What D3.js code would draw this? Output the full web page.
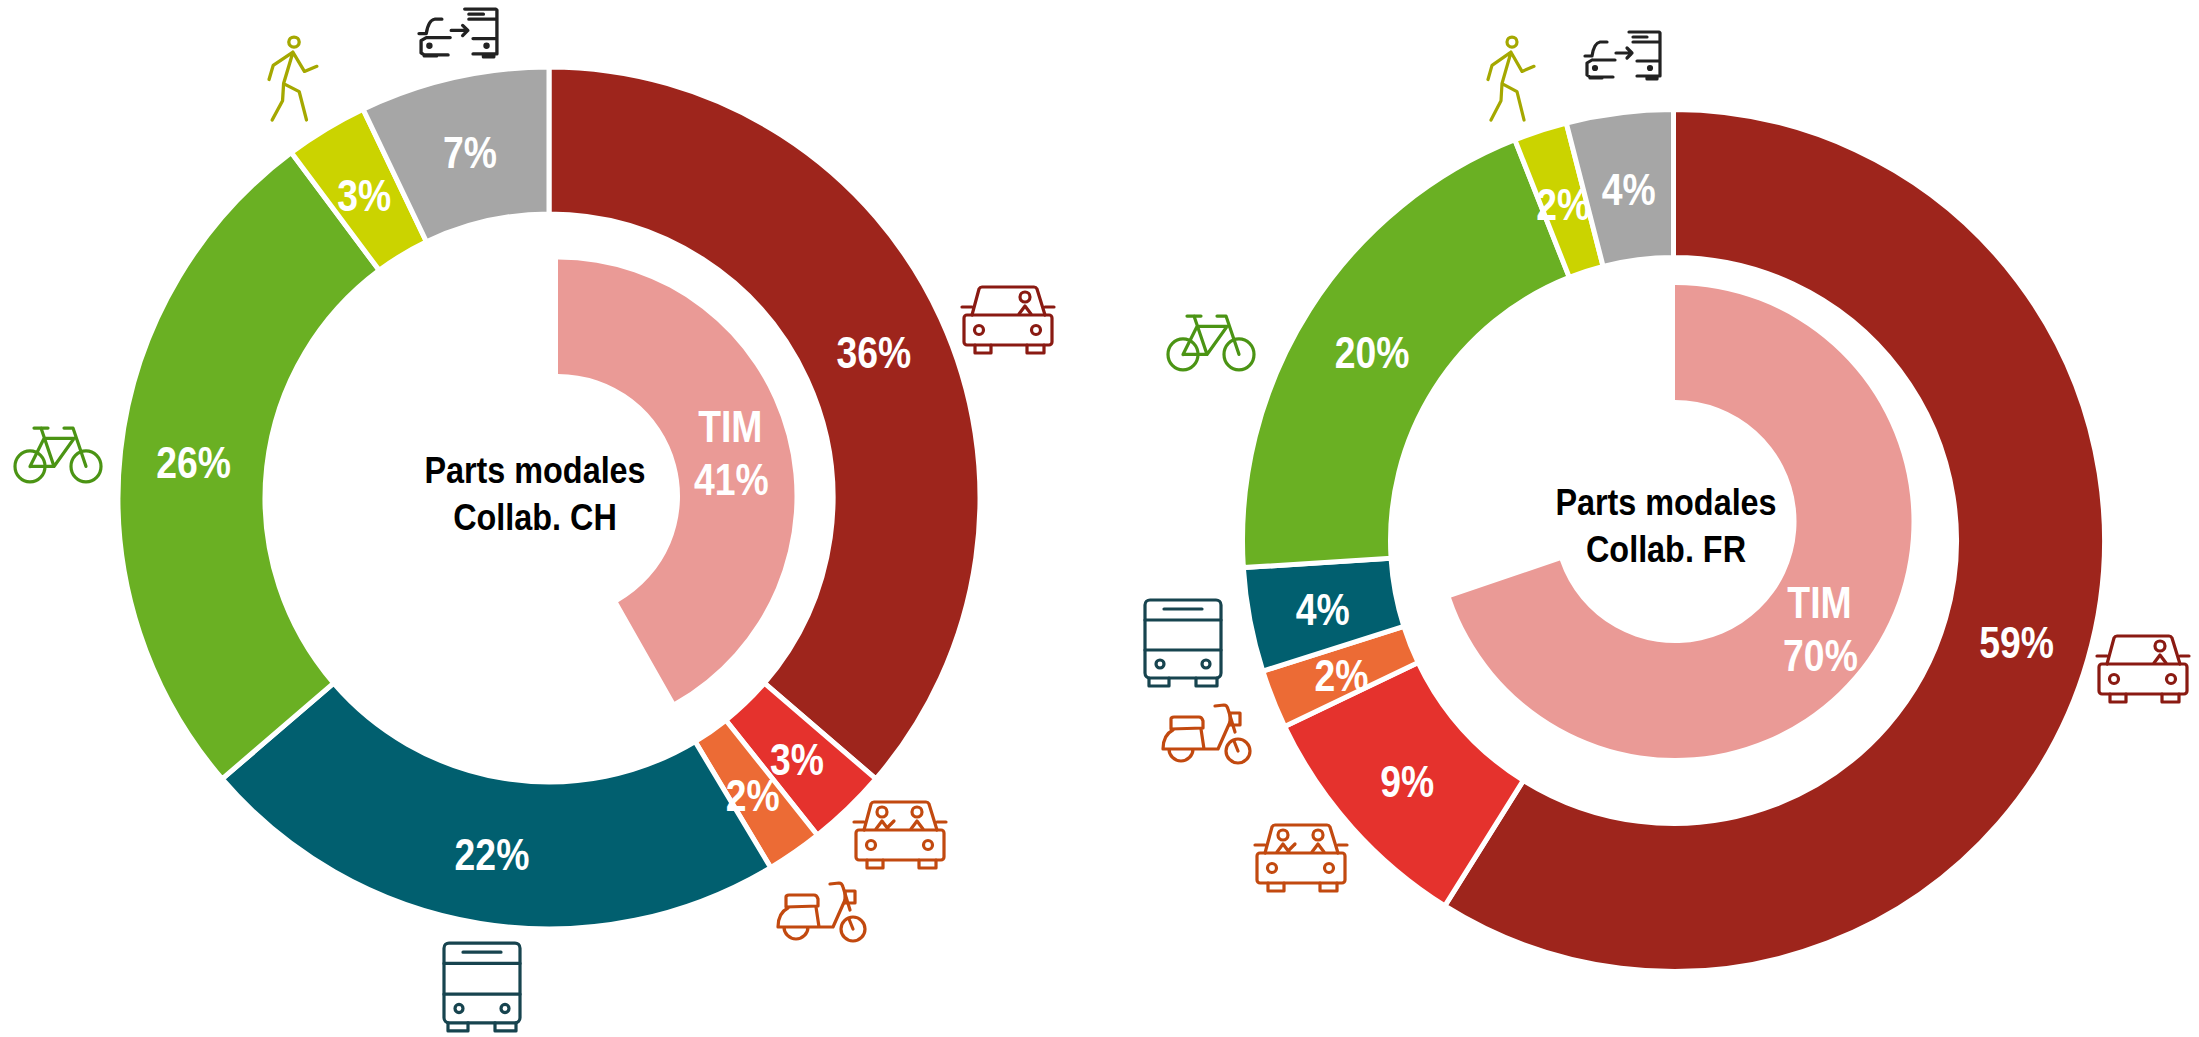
<!DOCTYPE html>
<html>
<head>
<meta charset="utf-8">
<script src="https://cdn.jsdelivr.net/npm/d3@7"></script>
<style>
  html, body { margin: 0; padding: 0; background: #fff; overflow: hidden; }
  text { font-family: "Liberation Sans", Arial, sans-serif; }
</style>
</head>
<body>
<div id="chart"></div>
<script>
// Data
var modes = ["Voiture", "Covoiturage", "Deux-roues", "TP", "Vélo", "Marche", "Multimodal"];
var colors = ["#9e251c", "#e5322d", "#ec6b35", "#015f6f", "#6ab023", "#cbd300", "#a6a6a6"];
var iconColors = ["#8a1a12", "#c2490f", "#c2490f", "#17444f", "#4b9414", "#a5a800", "#222222"];

var valuesCH = [36.3, 3.0, 2.1, 22.3, 26.1, 3.1, 7.1];
var labelsCH = ["36%", "3%", "2%", "22%", "26%", "3%", "7%"];
var valuesFR = [58.9, 9.0, 2.2, 3.9, 20.0, 2.0, 4.0];
var labelsFR = ["59%", "9%", "2%", "4%", "20%", "2%", "4%"];

var timCH = 41.8;
var timFR = 69.8;
var timLabelCH = "41%";
var timLabelFR = "70%";
var titleCH = ["Parts modales", "Collab. CH"];
var titleFR = ["Parts modales", "Collab. FR"];

var width = 2199, height = 1037;
// no narrow font installed, so squeeze the sans horizontally
var labelSqueeze = 0.83, titleSqueeze = 0.875;

// icons are drawn in their own little box, then scaled into place
var icons = {
  car: { w: 92, h: 69, draw: function(g) { carBase(g); person(g, 63); } },
  carpool: { w: 92, h: 69, draw: function(g) { carBase(g); person(g, 63); person(g, 28);
    g.append("path").attr("d", "M34,27 L40,21"); } },
  scooter: { w: 88, h: 59, draw: function(g) {
    g.append("path").attr("d", "M8,25 L8,15 Q8,13 11,13 L36,13 Q39,13 40,17 L40,24 Z");
    g.append("path").attr("d", "M0,45 Q0,31 10,26 M38,25 L41,45 M0,45 L55,45 L67,18 M6,45 A12,12 0 0 0 30,45");
    g.append("path").attr("d", "M52,2 L61,1 Q64,1 65,5 L72,28");
    g.append("rect").attr("x", 67).attr("y", 9).attr("width", 10).attr("height", 12);
    g.append("circle").attr("cx", 75).attr("cy", 47).attr("r", 12);
    g.append("path").attr("d", "M75,47 L71,37");
  } },
  bus: { w: 78, h: 88, draw: function(g) {
    g.append("rect").attr("x", 1).attr("y", 1).attr("width", 76).attr("height", 78).attr("rx", 5);
    g.append("path").attr("d", "M1,21 L77,21 M1,51 L77,51 M20,10 L58,10");
    g.append("circle").attr("cx", 16).attr("cy", 65).attr("r", 4);
    g.append("circle").attr("cx", 62).attr("cy", 65).attr("r", 4);
    g.append("path").attr("d", "M5,79 L5,87 L25,87 L25,79 M52,79 L52,87 L73,87 L73,79");
  } },
  bike: { w: 88, h: 54, draw: function(g) {
    g.append("circle").attr("cx", 16).attr("cy", 38).attr("r", 15);
    g.append("circle").attr("cx", 72).attr("cy", 38).attr("r", 15);
    g.append("path").attr("d", "M20,1 L34,1 M27,1 L40,38 M30,11 L60,11 M16,38 L40,38 L60,11 M30,11 L16,38 M50,1 L59,1 L72,38");
  } },
  walker: { w: 50, h: 86, draw: function(g) {
    g.append("circle").attr("cx", 25).attr("cy", 7).attr("r", 5);
    g.append("path").attr("d", "M24,17 L15,48 L30,56 L37,84 M15,48 L14,65 L4,84 M24,17 L5,30 L1,44 M24,17 L35,36 L47,31");
  } },
  mixed: { w: 77, h: 50, draw: function(g) {
    g.append("path").attr("d", "M22,12 L15,12 Q9,13 7,26 M0,26 L7,26 M7,30 L30,30 M7,30 L2,33 L2,45 L5,47 L28,47 M5,48 L17,48");
    g.append("path").attr("d", "M31,23 L47,23 M42,18 L47,23 L42,28");
    g.append("path").attr("d", "M44,2 L74,2 L75,3 L75,46 L52,46 M48,12 L75,12 M48,7 L62,7 M52,31 L75,31 M62,46 L62,49 L72,49 L72,46");
    g.append("circle").attr("cx", 10).attr("cy", 38).attr("r", 1.5).style("fill", "currentColor");
    g.append("circle").attr("cx", 65).attr("cy", 38).attr("r", 1.5).style("fill", "currentColor");
  } }
};

function carBase(g) {
  g.append("rect").attr("x", 2).attr("y", 30).attr("width", 88).attr("height", 30).attr("rx", 3);
  g.append("path").attr("d", "M10,30 L17,4 Q18,2 20,2 L72,2 Q74,2 75,4 L83,30 M0,22 L10,22 M83,22 L92,22");
  g.append("path").attr("d", "M13,60 L13,68 L29,68 L29,60 M65,60 L65,68 L82,68 L82,60");
  g.append("circle").attr("cx", 17).attr("cy", 45).attr("r", 4.5);
  g.append("circle").attr("cx", 74).attr("cy", 45).attr("r", 4.5);
}

function person(g, x) {
  g.append("circle").attr("cx", x).attr("cy", 12).attr("r", 5);
  g.append("path").attr("d", "M" + (x - 6) + ",29 L" + x + ",21 L" + (x + 6) + ",29");
}

var svg = d3.select("#chart").append("svg")
  .attr("width", width)
  .attr("height", height)
  .attr("viewBox", "0 0 " + width + " " + height);

function squeezed(x, y, s) {
  return "translate(" + x + "," + y + ") scale(" + s + ",1)";
}

function drawDonut(cfg) {
  var pie = d3.pie().sort(null).value(function(d) { return d; });
  var arc = d3.arc().innerRadius(cfg.r0).outerRadius(cfg.r1);

  var g = svg.append("g").attr("transform", "translate(" + cfg.cx + "," + cfg.cy + ")");
  var slices = pie(cfg.values);

  g.selectAll("path")
    .data(slices)
    .enter()
    .append("path")
      .attr("d", arc)
      .attr("fill", function(d, i) { return colors[i]; })
      .attr("stroke", "#fff")
      .attr("stroke-width", 5);

  // inner TIM sector, its centre sits a bit to the right of the ring
  var timScale = d3.scaleLinear().domain([0, 100]).range([0, 2 * Math.PI]);
  var timArc = d3.arc()
    .innerRadius(cfg.timR0)
    .outerRadius(cfg.timR1)
    .startAngle(0)
    .endAngle(timScale(cfg.tim));
  var tg = svg.append("g").attr("transform", "translate(" + cfg.timCx + "," + cfg.timCy + ")");
  tg.append("path").attr("d", timArc).attr("fill", "#ea9a96");

  var c = timArc.centroid();
  tg.append("text").attr("class", "lab").attr("transform", squeezed(c[0] - 1, c[1] - 8, labelSqueeze)).text("TIM");
  tg.append("text").attr("class", "lab").attr("transform", squeezed(c[0], c[1] + 45, labelSqueeze)).text(cfg.timLabel);

  // percent labels on the ring
  g.selectAll("text.lab")
    .data(slices)
    .enter()
    .append("text")
      .attr("class", "lab")
      .attr("transform", function(d) {
        var p = arc.centroid(d);
        return squeezed(p[0], p[1] + 19, labelSqueeze);
      })
      .text(function(d, i) { return cfg.labels[i]; });

  svg.selectAll("text.lab")
    .attr("text-anchor", "middle")
    .attr("fill", "#fff")
    .style("font-size", "45px")
    .style("font-weight", "bold");

  // title in the hole
  cfg.title.forEach(function(t, i) {
    svg.append("text")
      .attr("transform", squeezed(cfg.titleX, cfg.titleY + i * 47, titleSqueeze))
      .attr("text-anchor", "middle")
      .attr("fill", "#000")
      .style("font-size", "37px")
      .style("font-weight", "bold")
      .text(t);
  });

  // pictograms round the ring
  cfg.icons.forEach(function(p, i) {
    var ic = icons[p[0]];
    var ig = svg.append("g")
      .attr("transform", "translate(" + p[1] + "," + p[2] + ") scale(" + (p[3] / ic.w) + "," + (p[4] / ic.h) + ")")
      .attr("fill", "none")
      .attr("stroke", iconColors[i])
      .attr("color", iconColors[i])
      .attr("stroke-width", 3.2)
      .attr("stroke-linejoin", "round")
      .attr("stroke-linecap", "round");
    ic.draw(ig);
  });
}

drawDonut({
  cx: 549, cy: 498, r0: 284, r1: 431,
  values: valuesCH, labels: labelsCH,
  timCx: 558, timCy: 496, timR0: 122, timR1: 236.5,
  tim: timCH, timLabel: timLabelCH,
  title: titleCH, titleX: 535, titleY: 483,
  icons: [
    ["car", 962, 285, 92, 69],
    ["carpool", 854, 800, 92, 69],
    ["scooter", 778, 882, 88, 59],
    ["bus", 443, 942, 78, 90],
    ["bike", 14, 427, 88, 56],
    ["walker", 268, 35, 52, 87],
    ["mixed", 419, 7, 80, 51]
  ]
});

drawDonut({
  cx: 1673.5, cy: 540.5, r0: 283, r1: 431,
  values: valuesFR, labels: labelsFR,
  timCx: 1675, timCy: 521.5, timR0: 121.5, timR1: 236.5,
  tim: timFR, timLabel: timLabelFR,
  title: titleFR, titleX: 1666, titleY: 515,
  icons: [
    ["car", 2097, 634, 92, 69],
    ["carpool", 1255, 823, 92, 69],
    ["scooter", 1163, 704, 88, 59],
    ["bus", 1144, 599, 78, 88],
    ["bike", 1167, 315, 88, 56],
    ["walker", 1487, 35, 50, 87],
    ["mixed", 1585, 30, 77, 50]
  ]
});
</script>
</body>
</html>
